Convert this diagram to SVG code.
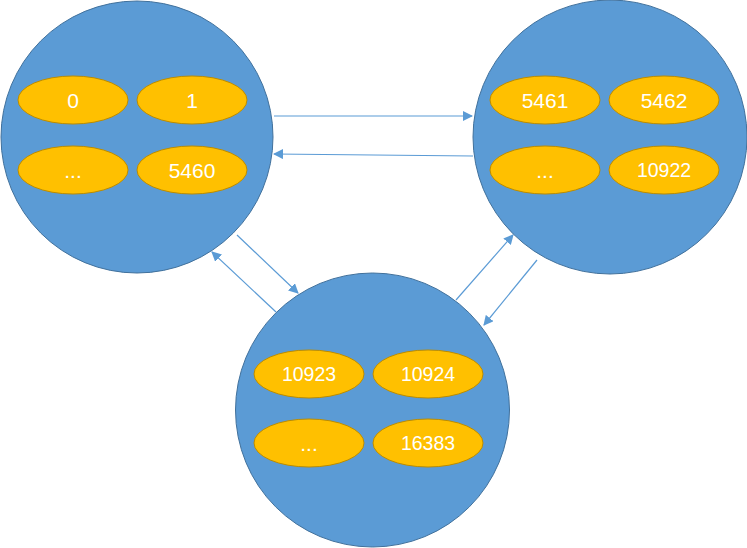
<svg xmlns="http://www.w3.org/2000/svg" width="747" height="548" viewBox="0 0 747 548">
  <style>
    .node { fill: #5B9BD5; stroke: #41719C; stroke-width: 1; }
    .slot { fill: #FFC000; stroke: #BC8C00; stroke-width: 1; }
    .lbl { fill: #FFFFFF; font-family: "Liberation Sans", Arial, sans-serif; font-size: 21px; text-anchor: middle; }
    .lbl5 { font-size: 19.5px; }
    .link { stroke: #5B9BD5; stroke-width: 1.2; fill: none; marker-end: url(#arrow); }
  </style>
  <defs>
    <marker id="arrow" viewBox="0 0 10 10" refX="9" refY="5" markerWidth="10" markerHeight="10" markerUnits="userSpaceOnUse" orient="auto">
      <path d="M0,0 L10,5 L0,10 z" fill="#5B9BD5"/>
    </marker>
  </defs>
  <rect width="747" height="548" fill="#FFFFFF"/>

  <g id="connectors">
    <line class="link" x1="274" y1="116" x2="472" y2="116"/>
    <line class="link" x1="473" y1="156" x2="274" y2="154"/>
    <line class="link" x1="237" y1="235" x2="298" y2="293"/>
    <line class="link" x1="276" y1="312" x2="212" y2="252"/>
    <line class="link" x1="456" y1="300" x2="513" y2="235"/>
    <line class="link" x1="537" y1="260" x2="484" y2="325"/>
  </g>

  <g id="node-a">
    <circle class="node" cx="137" cy="137" r="136"/>
    <ellipse class="slot" cx="73" cy="100" rx="55" ry="24"/>
    <ellipse class="slot" cx="192" cy="100" rx="55" ry="24"/>
    <ellipse class="slot" cx="73" cy="170" rx="55" ry="24"/>
    <ellipse class="slot" cx="192" cy="170" rx="55" ry="24"/>
    <text class="lbl" x="73" y="107.5">0</text>
    <text class="lbl" x="192" y="107.5">1</text>
    <text class="lbl" x="73" y="177.5">...</text>
    <text class="lbl" x="192" y="177.5">5460</text>
  </g>

  <g id="node-b">
    <circle class="node" cx="610" cy="137" r="137"/>
    <ellipse class="slot" cx="545" cy="100" rx="55" ry="24"/>
    <ellipse class="slot" cx="664" cy="100" rx="55" ry="24"/>
    <ellipse class="slot" cx="545" cy="170" rx="55" ry="24"/>
    <ellipse class="slot" cx="664" cy="170" rx="55" ry="24"/>
    <text class="lbl" x="545" y="107.5">5461</text>
    <text class="lbl" x="664" y="107.5">5462</text>
    <text class="lbl" x="545" y="177.5">...</text>
    <text class="lbl lbl5" x="664" y="177">10922</text>
  </g>

  <g id="node-c">
    <circle class="node" cx="372.5" cy="410" r="137"/>
    <ellipse class="slot" cx="309" cy="374" rx="55" ry="24"/>
    <ellipse class="slot" cx="428" cy="374" rx="55" ry="24"/>
    <ellipse class="slot" cx="309" cy="443" rx="55" ry="24"/>
    <ellipse class="slot" cx="428" cy="443" rx="55" ry="24"/>
    <text class="lbl lbl5" x="309" y="381">10923</text>
    <text class="lbl lbl5" x="428" y="381">10924</text>
    <text class="lbl" x="309" y="450.5">...</text>
    <text class="lbl lbl5" x="428" y="450">16383</text>
  </g>
</svg>
